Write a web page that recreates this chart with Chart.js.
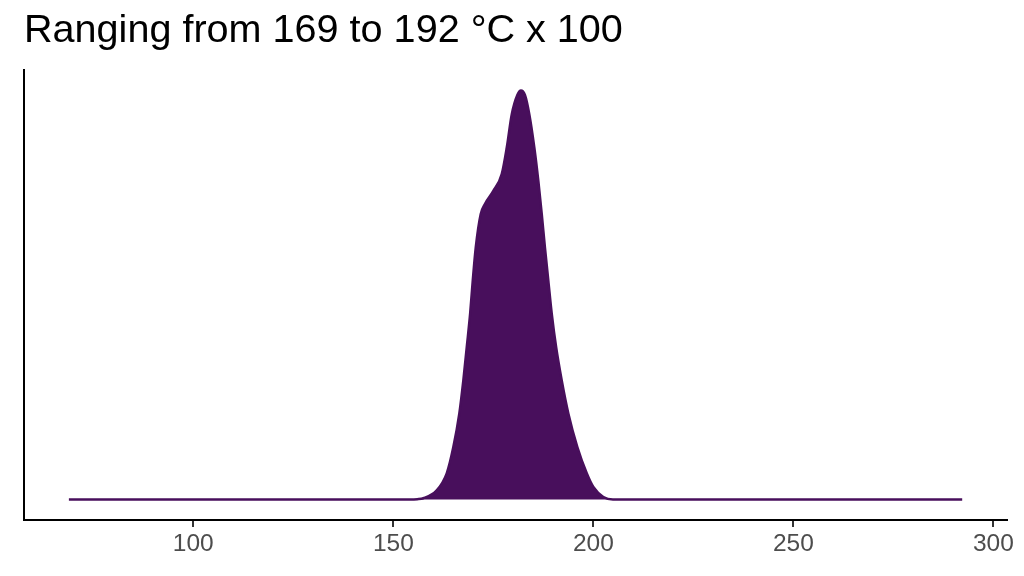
<!DOCTYPE html>
<html>
<head>
<meta charset="utf-8">
<script src="https://cdn.jsdelivr.net/npm/chart.js@4"></script>
<style>
  html, body { margin: 0; padding: 0; background: #fff; }
  #wrap { width: 1024px; height: 576px; position: relative; }
</style>
</head>
<body>
<div id="wrap"><canvas id="density-chart"></canvas></div>
<script>
// Density estimate (x in °C x 100, y = density)
const densityX = [68.9, 140, 154.2, 156, 157.5, 160.85, 163.35, 165.0, 166.5, 167.5, 168.35, 169.2, 169.85, 170.6,
                  171.85, 172.9, 175.0, 177.1, 178.35, 179.6, 181.0, 181.9, 182.9, 184.0, 185.25, 186.25, 187.1, 187.9,
                  188.75, 189.6, 190.7, 192.1, 193.75, 196.0, 198.35, 200.0, 202.5, 204.9, 220, 292.2];
const densityY = [0, 0, 0, 0.00004, 0.00015, 0.00104, 0.00295, 0.0059, 0.00968, 0.01339, 0.01712, 0.0209, 0.0246, 0.02834,
                  0.03212, 0.03324, 0.0347, 0.03661, 0.03956, 0.04331, 0.0455, 0.0460, 0.0455, 0.04331, 0.03956, 0.03582, 0.03212, 0.02834,
                  0.0246, 0.0209, 0.01712, 0.01339, 0.00968, 0.0059, 0.00295, 0.00141, 0.00029, 0, 0, 0];
const xTickValues = [100, 150, 200, 250, 300];
const titleText = 'Ranging from 169 to 192 °C x 100';

const fillColor = '#480F5C';
const peak = Math.max(...densityY);

const points = densityX.map((x, i) => ({ x: x, y: densityY[i] }));

const ctx = document.getElementById('density-chart').getContext('2d');
const densityChart = new Chart(ctx, {
    type: 'line',
    data: {
        datasets: [{
            data: points,
            borderColor: fillColor,
            backgroundColor: fillColor,
            borderWidth: 2.5,
            fill: 'origin',
            pointRadius: 0,
            cubicInterpolationMode: 'monotone'
        }]
    },
    options: {
        responsive: true,
        maintainAspectRatio: false,
        devicePixelRatio: 1,
        animation: false,
        layout: { padding: { left: 24, right: 17, top: 0, bottom: 0 } },
        plugins: {
            legend: { display: false },
            tooltip: { enabled: false },
            title: {
                display: true,
                text: titleText,
                align: 'start',
                color: '#000',
                font: { family: 'Liberation Sans', size: 39.6, weight: 'normal' },
                padding: { top: 7.75, bottom: 14.75 }
            }
        },
        scales: {
            x: {
                type: 'linear',
                min: 57.68,
                max: 303.4,
                afterBuildTicks: scale => {
                    scale.ticks = xTickValues.map(v => ({ value: v }));
                },
                afterFit: scale => { scale.height = 56; },
                ticks: {
                    color: '#4D4D4D',
                    padding: 3,
                    font: { family: 'Liberation Sans', size: 24.5 }
                },
                grid: {
                    display: true,
                    drawOnChartArea: false,
                    drawTicks: true,
                    tickLength: 7,
                    color: '#333333',
                    lineWidth: 2
                },
                border: { display: true, color: '#000', width: 2 }
            },
            y: {
                min: -0.05 * peak,
                max: 1.05 * peak,
                afterFit: scale => { scale.width = 0; },
                ticks: { display: false },
                grid: { display: false },
                border: { display: true, color: '#000', width: 2 }
            }
        }
    }
});
</script>
</body>
</html>
